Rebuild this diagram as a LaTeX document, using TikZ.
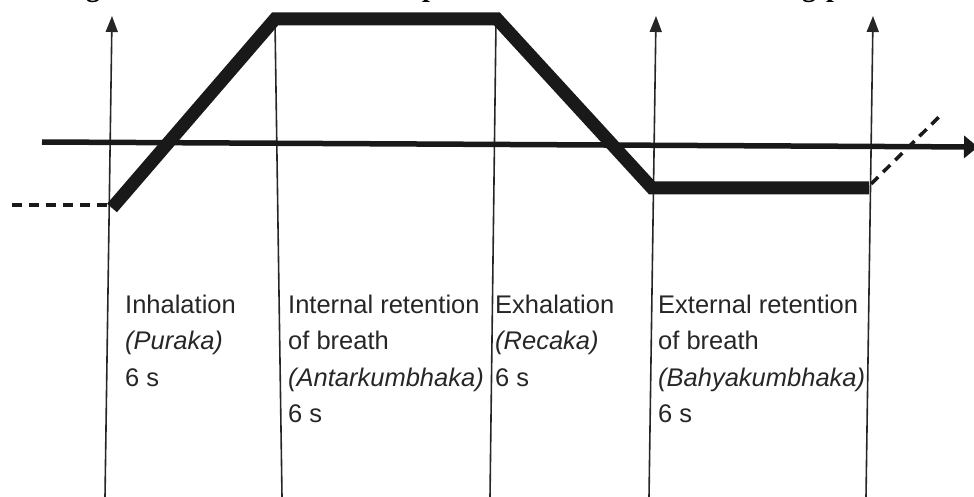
\documentclass[tikz,border=0pt]{standalone}
\usepackage{fontspec}
\newfontfamily\labelfont{Liberation Sans}
\newfontfamily\titlefont{Liberation Serif}
\usetikzlibrary{arrows.meta}
\begin{document}
\begin{tikzpicture}[x=1pt,y=-1pt,
  phase/.style={draw=black!85, line width=1.6pt},
  uptip/.style={-{Triangle[length=16pt,width=12pt]}},
  axisline/.style={draw=black!90, line width=5.5pt, -{Triangle[length=14pt,width=22pt]}},
  breath/.style={draw=black!90, line width=13pt, line join=miter},
  ghost/.style={draw=black!90, line width=3.5pt, dash pattern=on 10pt off 7pt},
  lbl/.style={font=\labelfont\fontsize{25.5pt}{36.5pt}\selectfont, text=black!85,
    align=left, inner sep=0pt, anchor=north west},
  titlebit/.style={font=\titlefont\bfseries\fontsize{28pt}{30pt}\selectfont,
    inner sep=0pt, anchor=base west}
]
\useasboundingbox (0,0) rectangle (974,497);
\begin{scope}
\clip (0,0) rectangle (974,497);

% descenders of the heading line above
\node[titlebit] (h1) at (86,-3) {g};
\node[titlebit] (h2) at (422,-3) {p};
\node[titlebit] (h3) at (802,-3) {g};
\node[titlebit] (h4) at (826,-3) {p};

% phase boundaries
\coordinate (p1b) at (105,497); \coordinate (p1t) at (112,16);
\coordinate (p2t) at (275,22);  \coordinate (p2b) at (282,497);
\coordinate (p3t) at (496,22);  \coordinate (p3b) at (490,497);
\coordinate (p4b) at (649,497); \coordinate (p4t) at (656,16);
\coordinate (p5b) at (866,497); \coordinate (p5t) at (873,16);

\draw[phase,uptip] (p1b) -- (p1t);
\draw[phase] (p2t) -- (p2b);
\draw[phase] (p3t) -- (p3b);
\draw[phase,uptip] (p4b) -- (p4t);
\draw[phase,uptip] (p5b) -- (p5t);

% time axis
\coordinate (axL) at (42,142);
\coordinate (axR) at (978,147);
\draw[axisline] (axL) -- (axR);

% breathing cycle
\coordinate (b0) at (112,208);
\coordinate (b1) at (275,19);
\coordinate (b2) at (497,19);
\coordinate (b3) at (652,188);
\coordinate (b4) at (869,188);
\draw[breath] (b0) -- (b1) -- (b2) -- (b3) -- (b4);

% previous and next cycle
\coordinate (d0) at (12,205);
\coordinate (d1) at (109,205);
\draw[ghost] (d0) -- (d1);
\coordinate (e0) at (871,184);
\coordinate (e1) at (943,113);
\draw[ghost] (e0) -- (e1);

% phase labels
\node[lbl] (inh) at (125,294.5) {Inhalation\\\textit{(Puraka)}\\6 s};
\node[lbl] (int) at (288,294.5) {Internal retention\\of breath\\\textit{(Antarkumbhaka)}\\6 s};
\node[lbl] (exh) at (495,294.5) {Exhalation\\\textit{(Recaka)}\\6 s};
\node[lbl] (ext) at (658,294.5) {External retention\\of breath\\\textit{(Bahyakumbhaka)}\\6 s};
\end{scope}
\end{tikzpicture}
\end{document}
